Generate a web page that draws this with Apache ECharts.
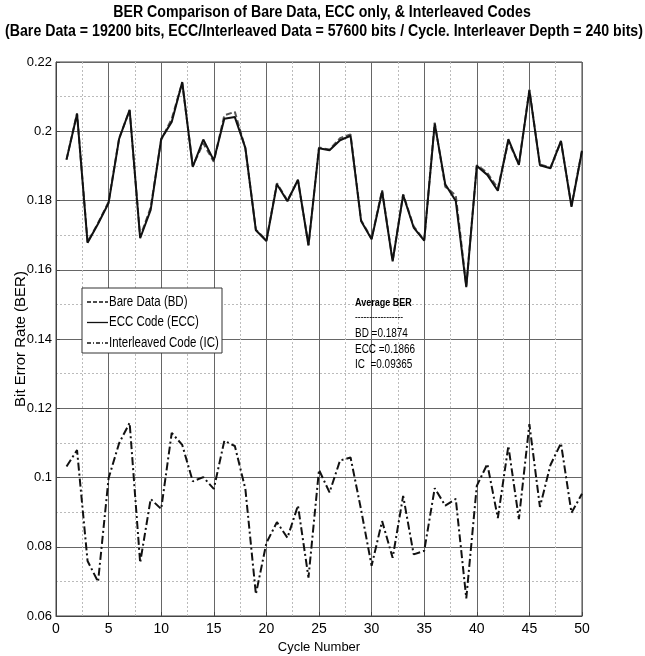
<!DOCTYPE html>
<html>
<head>
<meta charset="utf-8">
<script src="https://cdn.jsdelivr.net/npm/echarts@6/dist/echarts.min.js"></script>
<style>
html,body{margin:0;padding:0;background:#fff;}
#chart{width:645px;height:656px;}
</style>
</head>
<body>
<div id="chart"></div>
<script>
var cycles = [];
for (var c = 1; c <= 50; c++) cycles.push(c);

var bareData = [0.1918,0.2052,0.1680,0.1735,0.1796,0.1980,0.2060,0.1695,0.1780,0.1975,
  0.2036,0.2140,0.1900,0.1965,0.1912,0.2046,0.2056,0.1950,0.1716,0.1685,
  0.1850,0.1800,0.1858,0.1672,0.1953,0.1947,0.1980,0.1991,0.1743,0.1690,
  0.1830,0.1626,0.1818,0.1725,0.1686,0.2025,0.1840,0.1815,0.1553,0.1902,
  0.1880,0.1835,0.1970,0.1905,0.2120,0.1904,0.1895,0.1970,0.1785,0.1945];

var eccData = [0.1918,0.2050,0.1678,0.1733,0.1793,0.1978,0.2062,0.1691,0.1773,0.1978,
  0.2027,0.2142,0.1897,0.1976,0.1916,0.2036,0.2041,0.1952,0.1714,0.1683,
  0.1847,0.1798,0.1860,0.1670,0.1951,0.1945,0.1974,0.1987,0.1741,0.1688,
  0.1826,0.1624,0.1816,0.1722,0.1684,0.2022,0.1847,0.1799,0.1550,0.1900,
  0.1874,0.1828,0.1977,0.1903,0.2118,0.1902,0.1893,0.1972,0.1782,0.1943];

var icData = [0.1032,0.1079,0.0759,0.0699,0.0998,0.1099,0.1158,0.0754,0.0938,0.0909,
  0.1129,0.1094,0.0989,0.1001,0.0967,0.1106,0.1091,0.0967,0.0663,0.0811,
  0.0871,0.0826,0.0919,0.0711,0.1022,0.0957,0.1049,0.1058,0.0907,0.0745,
  0.0874,0.0768,0.0947,0.0778,0.0788,0.0969,0.0919,0.0938,0.0651,0.0976,
  0.1039,0.0883,0.1091,0.0880,0.1154,0.0915,0.1036,0.1099,0.0898,0.0953];

var seriesNames = ['Bare Data (BD)', 'ECC Code (ECC)', 'Interleaved Code (IC)'];
var titleLines = ['BER Comparison of Bare Data, ECC only, & Interleaved Codes',
  '(Bare Data = 19200 bits, ECC/Interleaved Data = 57600 bits / Cycle. Interleaver Depth = 240 bits)'];
var avgLines = ['Average BER', '-----------------', 'BD =0.1874', 'ECC =0.1866', 'IC  =0.09365'];

var FONT = "'Liberation Sans',Arial,sans-serif";
var lineTypes = [[6,3], 'solid', [8,3,2,3]];
var lineColors = ['#555', '#111', '#111'];

function pairs(arr){ return arr.map(function(v,i){ return [cycles[i], v]; }); }

var graphics = [];
// title (condensed)
graphics.push({ type: 'text', x: 322, y: 13, scaleX: 0.885, z: 10,
  style: { text: titleLines[0], font: 'bold 16px ' + FONT, fill: '#000', textAlign: 'center', textVerticalAlign: 'middle' } });
graphics.push({ type: 'text', x: 324, y: 32, scaleX: 0.885, z: 10,
  style: { text: titleLines[1], font: 'bold 16px ' + FONT, fill: '#000', textAlign: 'center', textVerticalAlign: 'middle' } });
// legend box
graphics.push({ type: 'rect', z: 20, shape: { x: 82, y: 288, width: 140, height: 65 },
  style: { fill: '#fff', stroke: '#333', lineWidth: 1 } });
var legendY = [302, 322.5, 343];
for (var k = 0; k < 3; k++) {
  graphics.push({ type: 'line', z: 21, shape: { x1: 87, y1: legendY[k], x2: 108, y2: legendY[k] },
    style: { stroke: '#111', lineWidth: 1.3, lineDash: lineTypes[k] === 'solid' ? null : (k === 0 ? [4,2] : [4,2,1,2]) } });
  graphics.push({ type: 'text', z: 21, x: 109, y: legendY[k], scaleX: 0.82,
    style: { text: seriesNames[k], font: '14px ' + FONT, fill: '#000', textVerticalAlign: 'middle' } });
}
// average annotation
var avgY = [302.5, 317.5, 334, 350, 365];
var avgFont = ['bold 11px ', '10px ', '12px ', '12px ', '12px '];
var avgScale = [0.82, 0.85, 0.83, 0.83, 0.83];
for (var m = 0; m < avgLines.length; m++) {
  graphics.push({ type: 'text', z: 21, x: 355, y: avgY[m], scaleX: avgScale[m],
    style: { text: avgLines[m], font: avgFont[m] + FONT, fill: '#000', textVerticalAlign: 'middle' } });
}

var chart = echarts.init(document.getElementById('chart'));
chart.setOption({
  backgroundColor: '#fff',
  animation: false,
  grid: { left: 56, right: 63, top: 62, bottom: 40, containLabel: false, outerBoundsMode: 'none',
    show: true, borderColor: '#444', borderWidth: 1, backgroundColor: '#fff' },
  xAxis: {
    type: 'value', min: 0, max: 50, interval: 5,
    name: 'Cycle Number', nameLocation: 'middle', nameGap: 25, nameMoveOverlap: false,
    nameTextStyle: { fontFamily: FONT, fontSize: 13, color: '#000' },
    axisLine: { show: true, lineStyle: { color: '#444' } },
    axisTick: { show: true, inside: true, length: 4, lineStyle: { color: '#444' } },
    axisLabel: { fontFamily: FONT, fontSize: 14, color: '#000', margin: 6 },
    splitLine: { show: true, lineStyle: { color: '#666', width: 1 } },
    minorTick: { show: false, splitNumber: 2 },
    minorSplitLine: { show: true, lineStyle: { color: '#bbb', type: [2,2], width: 1 } }
  },
  yAxis: {
    type: 'value', min: 0.06, max: 0.22, interval: 0.02,
    name: 'Bit Error Rate (BER)', nameLocation: 'middle', nameGap: 28, nameMoveOverlap: false,
    nameTextStyle: { fontFamily: FONT, fontSize: 15, color: '#000' },
    axisLine: { show: true, lineStyle: { color: '#444' } },
    axisTick: { show: true, inside: true, length: 4, lineStyle: { color: '#444' } },
    axisLabel: { fontFamily: FONT, fontSize: 13, color: '#000', margin: 4,
      formatter: function(v){ return String(parseFloat(v.toFixed(4))); } },
    splitLine: { show: true, lineStyle: { color: '#666', width: 1 } },
    minorTick: { show: false, splitNumber: 2 },
    minorSplitLine: { show: true, lineStyle: { color: '#bbb', type: [2,2], width: 1 } }
  },
  series: [
    { name: seriesNames[0], type: 'line', data: pairs(bareData), symbol: 'none',
      lineStyle: { color: lineColors[0], width: 2, type: lineTypes[0] } },
    { name: seriesNames[1], type: 'line', data: pairs(eccData), symbol: 'none',
      lineStyle: { color: lineColors[1], width: 2, type: lineTypes[1] } },
    { name: seriesNames[2], type: 'line', data: pairs(icData), symbol: 'none',
      lineStyle: { color: lineColors[2], width: 2, type: lineTypes[2] } }
  ],
  graphic: graphics
});
</script>
</body>
</html>
